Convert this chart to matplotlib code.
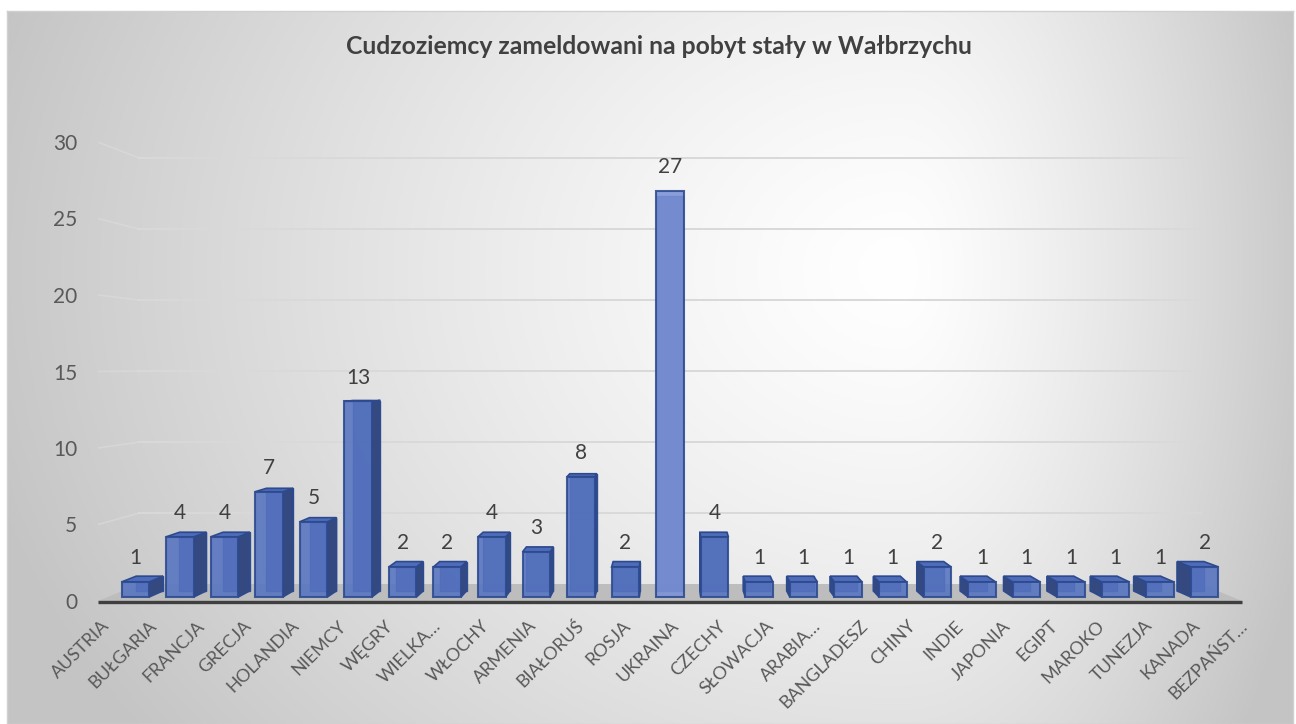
import numpy as np
import matplotlib.pyplot as plt
from matplotlib.patches import Polygon

plt.rcParams["font.family"] = ["Lato", "DejaVu Sans"]

# data
countries = ["AUSTRIA", "BUŁGARIA", "FRANCJA", "GRECJA", "HOLANDIA", "NIEMCY",
             "WĘGRY", "WIELKA…", "WŁOCHY", "ARMENIA", "BIAŁORUŚ", "ROSJA",
             "UKRAINA", "CZECHY", "SŁOWACJA", "ARABIA…", "BANGLADESZ", "CHINY",
             "INDIE", "JAPONIA", "EGIPT", "MAROKO", "TUNEZJA", "KANADA", "BEZPAŃST…"]
counts = [1, 4, 4, 7, 5, 13, 2, 2, 4, 3, 8, 2, 27, 4, 1, 1, 1, 1, 2, 1, 1, 1, 1, 1, 2]
y_ticks = [0, 5, 10, 15, 20, 25, 30]
title = "Cudzoziemcy zameldowani na pobyt stały w Wałbrzychu"

W, H = 1296, 724

# simple perspective toward a vanishing point (in data units)
XC = (len(countries) - 1) / 2
VC = 15.4
S_BAR_FRONT = 0.983
S_BAR_BACK = 0.957
S_WALL = 0.928
S_LABEL = 1.046
X_LO, X_HI = -0.62, len(countries) - 1 + 0.62
BAR_W = 0.62


def proj(x, v, s):
    return XC + (x - XC) * s, VC + (v - VC) * s


fig = plt.figure(figsize=(W / 100, H / 100), dpi=100)

# background with radial-ish gradient
bg = fig.add_axes([7 / W, 0, (W - 10) / W, (H - 11) / H])
gx, gy = np.meshgrid(np.linspace(7, W - 3, 400), np.linspace(11, H, 240))
cx, cy = 900, 270
rx = np.where(gx < cx, 950, 430)
r = np.sqrt(((gx - cx) / rx) ** 2 + ((gy - cy) / 780) ** 2)
shade = 1.0 - 0.23 * np.clip(r, 0, 1) ** 1.3
bg.imshow(np.dstack([shade] * 3), aspect="auto", extent=(0, 1, 0, 1), origin="upper")
bg.set_xticks([])
bg.set_yticks([])
for sp in bg.spines.values():
    sp.set_color("#d0d0d0")
    sp.set_linewidth(1)

fig.text(659 / W, 1 - 47 / H, title, ha="center", va="center",
         fontsize=17.8, fontweight="bold", color="#404040")

ax = fig.add_axes([98 / W, (H - 601) / H, 1144 / W, 459 / H])
ax.set_facecolor("none")
ax.set_xlim(X_LO, X_HI)
ax.set_ylim(0, 30)
for sp in ax.spines.values():
    sp.set_visible(False)

# floor
floor = [proj(X_LO, 0, 1), proj(X_HI, 0, 1), proj(X_HI, 0, S_WALL), proj(X_LO, 0, S_WALL)]
ax.add_patch(Polygon(floor, closed=True, facecolor="#bdbdbd", edgecolor="none",
                     clip_on=False, zorder=1))
fx0, fy0 = proj(X_LO, 0, 1)
fx1, fy1 = proj(X_HI, 0, 1)
ax.plot([fx0, fx1], [fy0 - 0.05, fy1 - 0.05], color="#3f3f3f", lw=2.4,
        solid_capstyle="butt", clip_on=False, zorder=2)

# gridlines on back wall and left wall
for v in y_ticks[1:]:
    a = proj(X_LO, v, S_WALL)
    b = proj(X_HI, v, S_WALL)
    ax.plot([a[0], b[0]], [a[1], b[1]], color="#d9d9d9", lw=1.4, zorder=1)
    c = proj(X_LO, v, 1)
    ax.plot([c[0], a[0]], [c[1], a[1]], color="#dcdcdc", lw=1.2, alpha=0.6, zorder=1)

edge = "#2d4a8f"
order = sorted(range(len(counts)), key=lambda k: -abs(k - XC))
for i in order:
    v = counts[i]
    x0, x1 = i - BAR_W / 2, i + BAR_W / 2
    front = [proj(x0, 0, S_BAR_FRONT), proj(x1, 0, S_BAR_FRONT),
             proj(x1, v, S_BAR_FRONT), proj(x0, v, S_BAR_FRONT)]
    back = [proj(x0, 0, S_BAR_BACK), proj(x1, 0, S_BAR_BACK),
            proj(x1, v, S_BAR_BACK), proj(x0, v, S_BAR_BACK)]
    ax.add_patch(Polygon(back, closed=True, facecolor="#3c5596", edgecolor=edge,
                         lw=1.0, alpha=0.9, zorder=3))
    if abs(i - XC) > 0.01:
        xs = x1 if i < XC else x0
        side = [proj(xs, 0, S_BAR_FRONT), proj(xs, 0, S_BAR_BACK),
                proj(xs, v, S_BAR_BACK), proj(xs, v, S_BAR_FRONT)]
        ax.add_patch(Polygon(side, closed=True, facecolor="#34497f", edgecolor=edge,
                             lw=1.2, zorder=3))
    if v < VC:
        top = [proj(x0, v, S_BAR_FRONT), proj(x1, v, S_BAR_FRONT),
               proj(x1, v, S_BAR_BACK), proj(x0, v, S_BAR_BACK)]
        ax.add_patch(Polygon(top, closed=True, facecolor="#4f6cba", edgecolor=edge,
                             lw=1.2, zorder=3))
    face = "#7a92d6" if abs(i - XC) < 0.01 else "#5673c1"
    ax.add_patch(Polygon(front, closed=True, facecolor=face, edgecolor=edge,
                         lw=1.5, alpha=0.88, zorder=4))
    ax.annotate(str(v), xy=proj(i, v, S_BAR_FRONT), xytext=(0, 17),
                textcoords="offset points", ha="center", va="center",
                fontsize=15, color="#404040", zorder=5)

ax.set_yticks(y_ticks)
ax.tick_params(axis="y", length=0, pad=15, labelsize=15, labelcolor="#595959")
label_x = [proj(i, 0, S_LABEL)[0] for i in range(len(countries))]
ax.set_xticks(label_x)
ax.set_xticklabels(countries, rotation=45, ha="right", rotation_mode="anchor")
ax.tick_params(axis="x", length=0, pad=12, labelsize=13, labelcolor="#595959")

fig.savefig("out.png", dpi=100)
